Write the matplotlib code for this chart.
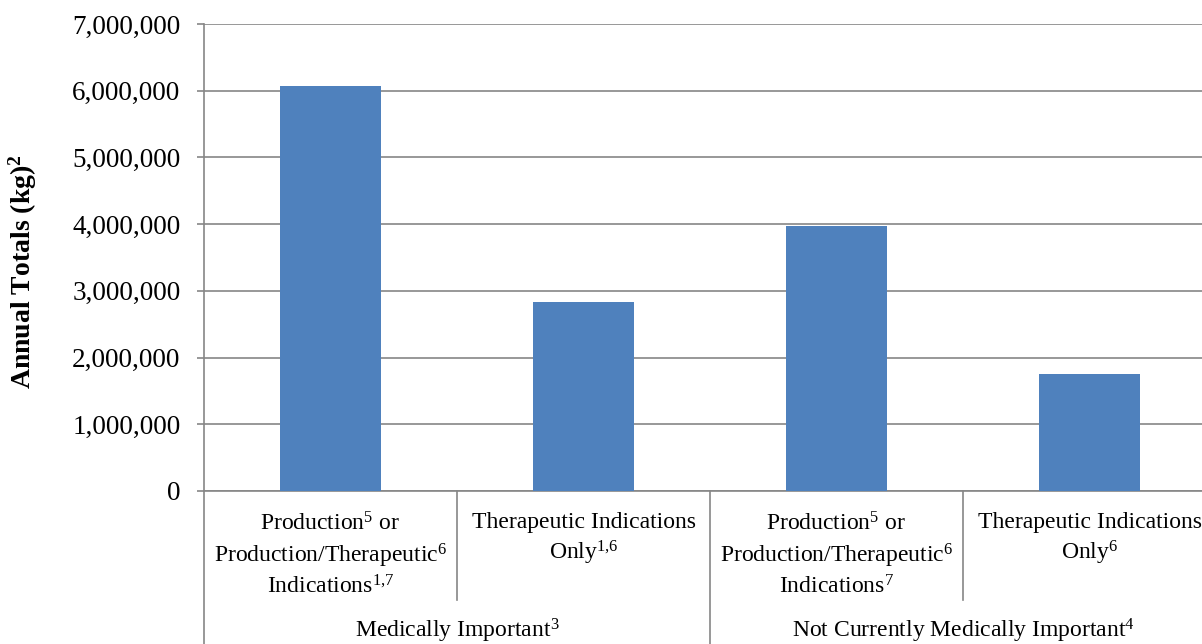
import matplotlib
matplotlib.use("Agg")
import matplotlib.pyplot as plt
import matplotlib.transforms as mtransforms
from matplotlib.ticker import FuncFormatter

# =========================
# DATOS
# =========================
subcategorias = [
    "Production$^{5}$ or\nProduction/Therapeutic$^{6}$\nIndications$^{1{,}7}$",
    "Therapeutic Indications\nOnly$^{1{,}6}$",
    "Production$^{5}$ or\nProduction/Therapeutic$^{6}$\nIndications$^{7}$",
    "Therapeutic Indications\nOnly$^{6}$",
]
grupos = ["Medically Important$^{3}$", "Not Currently Medically Important$^{4}$"]
totales = [6070000, 2840000, 3970000, 1755000]

# =========================
# ESTILO
# =========================
plt.rcParams["font.family"] = "Liberation Serif"
plt.rcParams["mathtext.fontset"] = "custom"
plt.rcParams["mathtext.rm"] = "Liberation Serif"
plt.rcParams["mathtext.it"] = "Liberation Serif:italic"
plt.rcParams["mathtext.bf"] = "Liberation Serif:bold"

gris = "#868686"
azul = "#4F81BD"

W, H = 1202, 644
fig = plt.figure(figsize=(W / 100, H / 100), dpi=100)
# el eje se extiende mas alla del borde derecho (como en la imagen original)
ax = fig.add_axes([204 / W, (H - 491) / H, 1012 / W, 467 / H])

x = range(len(totales))
ax.bar(x, totales, width=0.4, color=azul, zorder=3)

ax.set_xlim(-0.5, 3.5)
ax.set_ylim(0, 7000000)
ax.set_yticks(range(0, 7000001, 1000000))
ax.yaxis.set_major_formatter(FuncFormatter(lambda v, p: f"{int(v):,}"))
ax.tick_params(axis="y", labelsize=19.5, color=gris, length=5, width=1.2, pad=12)
ax.set_xticks([])
ax.grid(True, axis="y", color=gris, linewidth=1.2, zorder=0)

for s in ["top", "right"]:
    ax.spines[s].set_visible(False)
for s in ["left", "bottom"]:
    ax.spines[s].set_color(gris)
    ax.spines[s].set_linewidth(1.2)

# titulo del eje Y
fig.text(23 / W, (H - 272) / H, "Annual Totals (kg)$^{\\mathbf{2}}$", rotation=90,
         ha="center", va="center", fontsize=20, fontweight="bold")

# =========================
# EJE DE CATEGORIAS (DOS NIVELES)
# =========================
tr = mtransforms.blended_transform_factory(ax.transData, fig.transFigure)
y0 = (H - 491) / H
y_sep = (H - 600) / H
for xs, yb in [(-0.5, 0), (0.5, y_sep), (1.5, 0), (2.5, y_sep)]:
    ax.plot([xs, xs], [y0, yb], transform=tr, color=gris, linewidth=1.2, clip_on=False)

for i, lab in enumerate(subcategorias):
    ax.text(i, (H - 512) / H, lab, transform=tr, ha="center", va="top",
            fontsize=17, linespacing=1.3, multialignment="center")

for j, g in enumerate(grupos):
    ax.text(2 * j + 0.5, (H - 631) / H, g, transform=tr, ha="center", va="center",
            fontsize=17)

fig.savefig("out.png", dpi=100)
